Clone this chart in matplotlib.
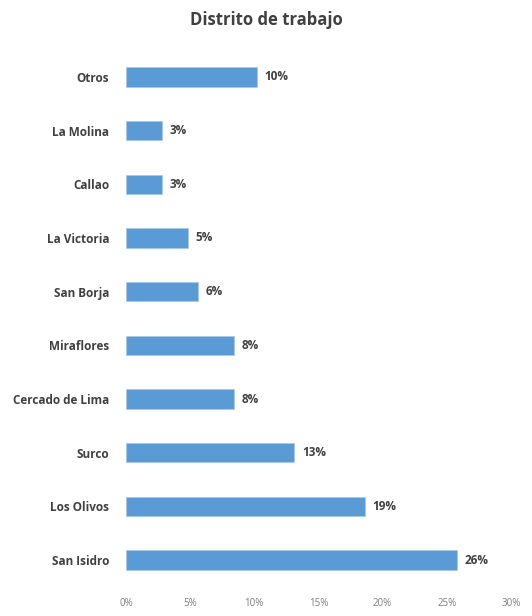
import matplotlib.pyplot as plt
from matplotlib.ticker import FuncFormatter

plt.rcParams['font.family'] = ['Open Sans', 'DejaVu Sans']

categories = ['Otros', 'La Molina', 'Callao', 'La Victoria', 'San Borja',
              'Miraflores', 'Cercado de Lima', 'Surco', 'Los Olivos', 'San Isidro']
values = [10.2, 2.8, 2.8, 4.8, 5.6, 8.4, 8.4, 13.1, 18.6, 25.8]
labels = ['10%', '3%', '3%', '5%', '6%', '8%', '8%', '13%', '19%', '26%']
xticks = [0, 5, 10, 15, 20, 25, 30]

fig = plt.figure(figsize=(5.32, 6.16), dpi=100)
ax = fig.add_axes([126 / 532, 1 - 587 / 616, (511 - 126) / 532, (587 - 50) / 616])

ypos = list(range(len(categories)))
ax.barh(ypos, values, height=0.36, color='#5b9bd5', edgecolor='#a9c9e8', linewidth=0.6)
for y, v, lab in zip(ypos, values, labels):
    ax.text(v + 0.6, y, lab, va='center', ha='left', fontsize=8.5,
            fontweight='bold', color='#404040')

ax.set_ylim(len(categories) - 0.5, -0.5)
ax.set_xlim(0, 30)
ax.set_yticks(ypos)
ax.set_yticklabels(categories, fontsize=8.5, fontweight='bold', color='#404040')
ax.set_xticks(xticks)
ax.xaxis.set_major_formatter(FuncFormatter(lambda v, p: f'{v:.0f}%'))
ax.tick_params(axis='x', labelsize=7, labelcolor='#7f7f7f', length=0, pad=8)
ax.tick_params(axis='y', length=0, pad=12)
for s in ax.spines.values():
    s.set_visible(False)

fig.text(0.5, 1 - 20 / 616, 'Distrito de trabajo', ha='center', va='center',
         fontsize=12, fontweight='bold', color='#404040')

fig.savefig('out.png', dpi=100)
